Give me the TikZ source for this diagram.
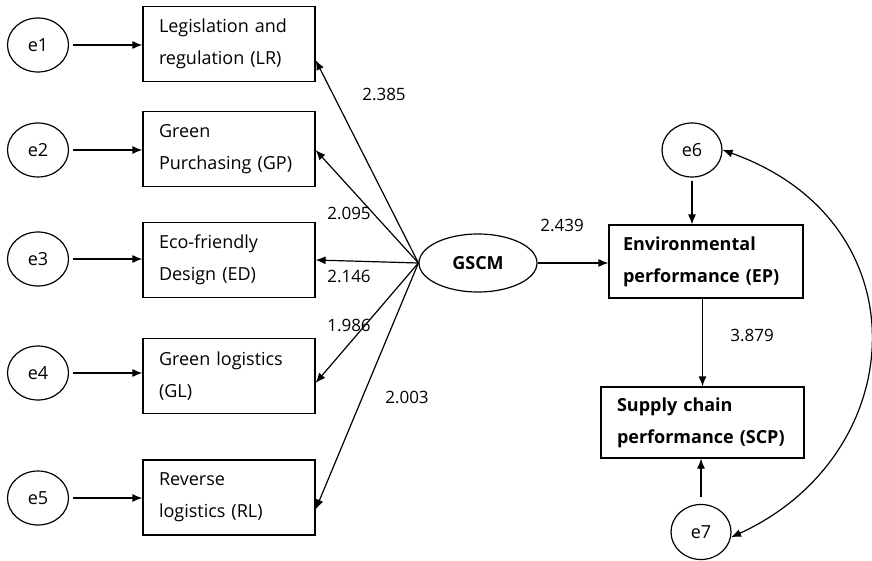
\documentclass[tikz,border=0pt]{standalone}
\usepackage{fontspec}
\setmainfont{Open Sans}
\usetikzlibrary{arrows.meta,calc,shapes.geometric}
\begin{document}
\begin{tikzpicture}[x=1pt,y=-1pt,
  every node/.style={font=\fontsize{18}{32}\selectfont},
  box/.style={draw, line width=1.2pt, minimum width=172pt, minimum height=75pt, text width=140pt, align=left, inner sep=0pt},
  bbox/.style={draw, line width=1.2pt, minimum height=73pt, align=left, inner sep=0pt, font=\fontsize{18}{32}\selectfont\bfseries},
  err/.style={draw, ellipse, line width=1.2pt, minimum width=61pt, minimum height=54pt, inner sep=0pt},
  arr/.style={line width=1.2pt, -{Latex[length=10pt,width=8pt]}},
  lab/.style={inner sep=0pt, font=\fontsize{17}{20}\selectfont}
]
\useasboundingbox (0,0) rectangle (872,561);

% left boxes
\node[box] (lr) at (229,44) {Legislation and\\regulation (LR)};
\node[box] (gp) at (229,149) {Green\\Purchasing (GP)};
\node[box] (ed) at (229,260) {Eco-friendly\\Design (ED)};
\node[box] (gl) at (229,376) {Green logistics\\(GL)};
\node[box] (rl) at (229,497.5) {Reverse\\logistics (RL)};

% error terms
\node[err] (e1) at (38,45) {e1};
\node[err] (e2) at (38,150) {e2};
\node[err] (e3) at (38,259) {e3};
\node[err] (e4) at (38,373) {e4};
\node[err] (e5) at (38,498) {e5};

\foreach \e/\b in {e1/lr,e2/gp,e3/ed,e4/gl,e5/rl}
  \draw[arr, shorten <=4pt] (\e.east) -- (\b.west |- \e.east);

% GSCM
\node[draw, ellipse, line width=1.2pt, minimum width=118pt, minimum height=58pt, inner sep=0pt, font=\fontsize{18}{20}\selectfont\bfseries] (gscm) at (478,263) {GSCM};

\draw[arr] (gscm.west) -- ($(lr.east)+(0,16)$);
\draw[arr] (gscm.west) -- ($(gp.east)+(0,1)$);
\draw[arr] (gscm.west) -- (ed.east);
\draw[arr] (gscm.west) -- ($(gl.east)+(0,7)$);
\draw[arr] (gscm.west) -- ($(rl.east)+(0,12)$);

\node[lab] (l1) at (384,94) {2.385};
\node[lab] (l2) at (349,213) {2.095};
\node[lab] (l3) at (349,276) {2.146};
\node[lab] (l4) at (349,325) {1.986};
\node[lab] (l5) at (407,397) {2.003};

% right side
\node[bbox, minimum width=194pt, text width=166pt] (ep) at (706,261.5) {Environmental\\performance (EP)};
\node[bbox, minimum width=203pt, text width=171pt, minimum height=71pt] (scp) at (702.5,422.5) {Supply chain\\performance (SCP)};
\node[err, minimum width=60pt] (e6) at (692,150) {e6};
\node[err, minimum width=60pt, minimum height=55pt] (e7) at (701,532) {e7};

\draw[arr] (gscm.east) -- (ep.west |- gscm.east);
\draw[arr, shorten <=3pt] (e6.south) -- (ep.north -| e6.south);
\draw[arr] (ep.south -| scp.north) -- (scp.north);
\draw[arr, shorten <=7pt] (e7.north) -- (scp.south -| e7.north);
\draw[line width=1.2pt, {Latex[length=10pt,width=8pt]}-{Latex[length=10pt,width=8pt]}]
  (e7.-10) .. controls (911,455) and (925,222) .. (e6.east);

\node[lab] (l6) at (562,225) {2.439};
\node[lab] (l7) at (752,335) {3.879};
\end{tikzpicture}
\end{document}
